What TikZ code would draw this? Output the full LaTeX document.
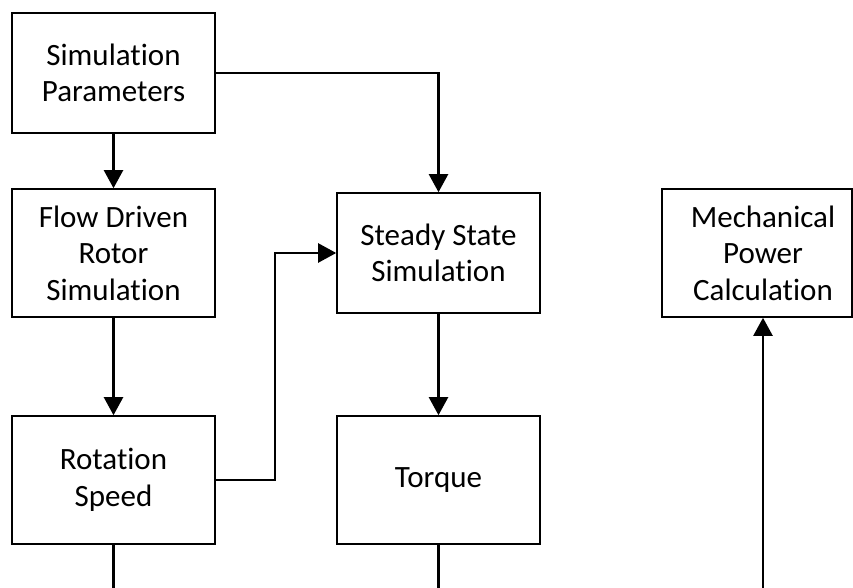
\documentclass[tikz,border=0pt]{standalone}
\usepackage{fontspec}
\setmainfont[Ligatures={NoCommon}]{Carlito}
\usetikzlibrary{arrows.meta,calc}
\begin{document}
\begin{tikzpicture}[x=1pt,y=1pt,
  box/.style={draw=black,line width=1.6pt,minimum width=203pt,minimum height=128pt,inner sep=0pt,align=center,
    font=\fontsize{31}{36.5}\selectfont},
  conn/.style={line width=2.3pt,line cap=butt},
  arr/.style={conn,-{Triangle[length=18pt,width=19pt]}}]
\useasboundingbox (0,0) rectangle (853,588);
\node[box,minimum height=120pt] (sp) at (113.5,515) {Simulation\\Parameters};
\node[box] (fd) at (113.5,335) {Flow Driven\\Rotor\\Simulation};
\node[box,minimum height=120pt] (ss) at (438.5,335) {Steady State\\Simulation};
\node[box,minimum width=190pt] (mechbox) at (757,335) {};
\node[align=center,inner sep=0pt,font=\fontsize{31}{36.5}\selectfont] (mech) at (763,335) {Mechanical\\Power\\Calculation};
\node[box] (rs) at (113.5,108) {Rotation\\Speed};
\node[box] (tq) at (438.5,108) {Torque};
\coordinate (b1) at (113.5,0);
\coordinate (b2) at (438.5,0);
\coordinate (b3) at (763,0);
\coordinate (jx) at (275,0);
\draw[arr] (sp.south) -- (fd.north);
\draw[arr] (sp.east) -| (ss.north);
\draw[arr] (fd.south) -- (rs.north);
\draw[arr] (rs.east) -- (jx |- rs.east) -- (jx |- ss.west) -- (ss.west);
\draw[arr] (ss.south) -- (tq.north);
\draw[conn] (rs.south) -- (b1);
\draw[conn] (tq.south) -- (b2);
\draw[arr] (b3) -- (b3 |- mechbox.south);
\end{tikzpicture}
\end{document}
